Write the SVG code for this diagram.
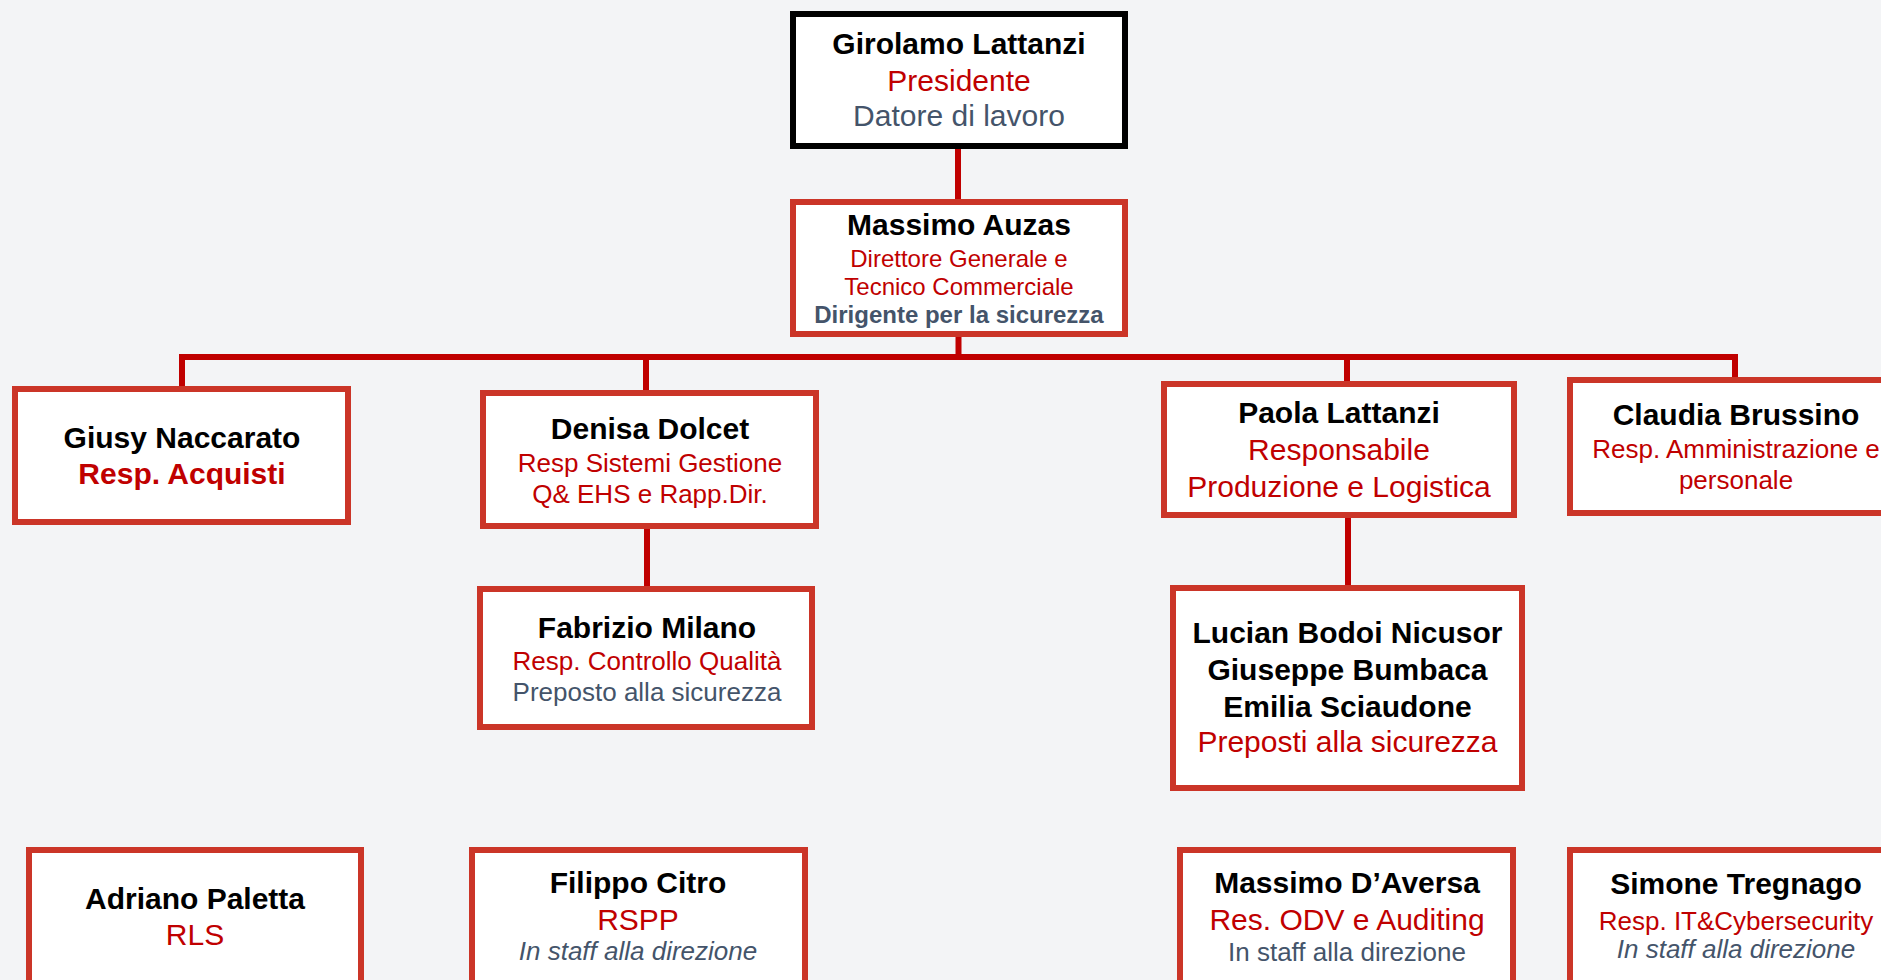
<svg xmlns="http://www.w3.org/2000/svg" width="1881" height="980" viewBox="0 0 1881 980">
<style>
.bx{fill:#FFFFFF;stroke:#CB3528;stroke-width:6}
.bk{fill:#FFFFFF;stroke:#000000;stroke-width:6}
.cn{fill:none;stroke:#C00000;stroke-width:6;stroke-linejoin:miter;stroke-linecap:butt}
text{font-family:"Liberation Sans",Arial,sans-serif;text-anchor:middle}
.n{font-weight:bold;font-size:30px;fill:#000000}
.r{font-size:30px;fill:#C00000}
.rs{font-size:26px;fill:#C00000}
.rm{font-size:24px;fill:#C00000}
.rb{font-weight:bold;font-size:30px;fill:#C00000}
.g{font-size:30px;fill:#44546A}
.gs{font-size:26px;fill:#44546A}
.gi{font-size:26px;fill:#44546A;font-style:italic}
.gb{font-weight:bold;font-size:24px;fill:#44546A}
</style>
<rect x="0" y="0" width="1881" height="980" fill="#F3F4F6"/>
<g id="connectors">
<path class="cn" d="M958 149 V199"/>
<path class="cn" d="M958.5 337 V357"/>
<path class="cn" d="M182 389 V357 H1735 V380"/>
<path class="cn" d="M646 357 V390"/>
<path class="cn" d="M1347 357 V381"/>
<path class="cn" d="M647 529 V587"/>
<path class="cn" d="M1348 518 V586"/>
</g>
<g id="girolamo">
<rect class="bk" x="793" y="14" width="332" height="132"/>
<text class="n" x="959" y="54">Girolamo Lattanzi</text>
<text class="r" x="959" y="91">Presidente</text>
<text class="g" x="959" y="126">Datore di lavoro</text>
</g>
<g id="massimo-auzas">
<rect class="bx" x="793" y="202" width="332" height="132"/>
<text class="n" x="959" y="235">Massimo Auzas</text>
<text class="rm" x="959" y="267">Direttore Generale e</text>
<text class="rm" x="959" y="295">Tecnico Commerciale</text>
<text class="gb" x="959" y="323">Dirigente per la sicurezza</text>
</g>
<g id="giusy">
<rect class="bx" x="15" y="389" width="333" height="133"/>
<text class="n" x="182" y="448">Giusy Naccarato</text>
<text class="rb" x="182" y="484">Resp. Acquisti</text>
</g>
<g id="denisa">
<rect class="bx" x="483" y="393" width="333" height="133"/>
<text class="n" x="650" y="439">Denisa Dolcet</text>
<text class="rs" x="650" y="472">Resp Sistemi Gestione</text>
<text class="rs" x="650" y="503">Q&amp; EHS e Rapp.Dir.</text>
</g>
<g id="paola">
<rect class="bx" x="1164" y="384" width="350" height="131"/>
<text class="n" x="1339" y="423">Paola Lattanzi</text>
<text class="r" x="1339" y="460">Responsabile</text>
<text class="r" x="1339" y="497">Produzione e Logistica</text>
</g>
<g id="claudia">
<rect class="bx" x="1570" y="380" width="332" height="133"/>
<text class="n" x="1736" y="425">Claudia Brussino</text>
<text class="rs" x="1736" y="458">Resp. Amministrazione e</text>
<text class="rs" x="1736" y="489">personale</text>
</g>
<g id="fabrizio">
<rect class="bx" x="480" y="589" width="332" height="138"/>
<text class="n" x="647" y="638">Fabrizio Milano</text>
<text class="rs" x="647" y="670">Resp. Controllo Qualità</text>
<text class="gs" x="647" y="701">Preposto alla sicurezza</text>
</g>
<g id="preposti">
<rect class="bx" x="1173" y="588" width="349" height="200"/>
<text class="n" x="1347.5" y="643">Lucian Bodoi Nicusor</text>
<text class="n" x="1347.5" y="680">Giuseppe Bumbaca</text>
<text class="n" x="1347.5" y="717">Emilia Sciaudone</text>
<text class="r" x="1347.5" y="752">Preposti alla sicurezza</text>
</g>
<g id="adriano">
<rect class="bx" x="29" y="850" width="332" height="150"/>
<text class="n" x="195" y="909">Adriano Paletta</text>
<text class="r" x="195" y="945">RLS</text>
</g>
<g id="filippo">
<rect class="bx" x="472" y="850" width="333" height="150"/>
<text class="n" x="638" y="893">Filippo Citro</text>
<text class="r" x="638" y="930">RSPP</text>
<text class="gi" x="638" y="960">In staff alla direzione</text>
</g>
<g id="daversa">
<rect class="bx" x="1180" y="850" width="333" height="150"/>
<text class="n" x="1347" y="893">Massimo D’Aversa</text>
<text class="r" x="1347" y="930">Res. ODV e Auditing</text>
<text class="gs" x="1347" y="961">In staff alla direzione</text>
</g>
<g id="simone">
<rect class="bx" x="1570" y="850" width="332" height="150"/>
<text class="n" x="1736" y="894">Simone Tregnago</text>
<text class="rs" x="1736" y="930">Resp. IT&amp;Cybersecurity</text>
<text class="gi" x="1736" y="958">In staff alla direzione</text>
</g>
</svg>
